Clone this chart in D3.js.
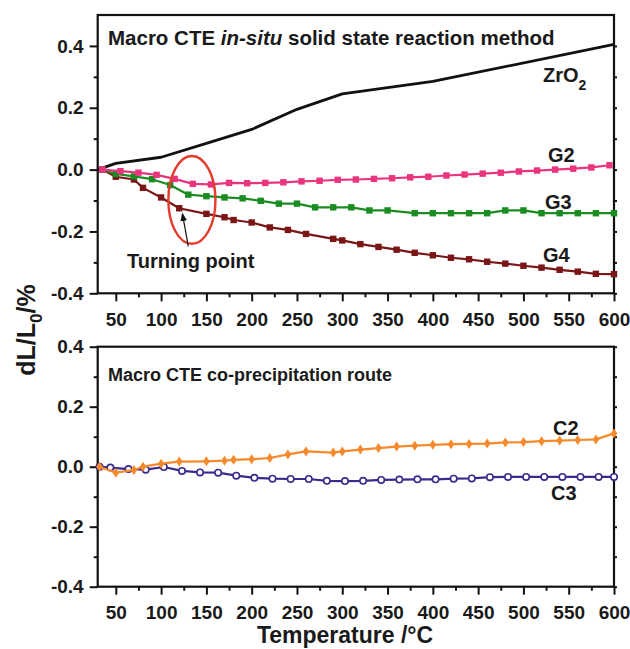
<!DOCTYPE html>
<html>
<head>
<meta charset="utf-8">
<script src="https://cdn.jsdelivr.net/npm/d3@7"></script>
<style>
  body { margin: 0; background: #fff; }
  svg { display: block; font-family: "Liberation Sans", Arial, sans-serif; font-weight: bold; }
</style>
</head>
<body>
<svg id="chart" width="630" height="649"></svg>
<script>
// ---- data (temperature in °C, dL/L0 in %) ----
const zro2T = [30, 50, 100, 150, 200, 250, 300, 400, 600];
const zro2V = [0, 0.02, 0.04, 0.085, 0.13, 0.195, 0.245, 0.285, 0.405];

const g2T = [35, 55, 75, 95, 115, 135, 155, 175, 195, 215, 235, 255, 275, 295, 315, 335, 355, 375, 395, 415, 435, 455, 475, 495, 515, 535, 555, 575, 595];
const g2V = [0, -0.005, -0.01, -0.017, -0.03, -0.046, -0.048, -0.043, -0.044, -0.043, -0.041, -0.038, -0.036, -0.033, -0.032, -0.03, -0.028, -0.025, -0.023, -0.019, -0.016, -0.013, -0.01, -0.006, -0.003, 0, 0.003, 0.007, 0.014];

const g3T = [35, 50, 70, 90, 110, 130, 150, 170, 190, 210, 230, 250, 270, 290, 310, 330, 350, 380, 400, 420, 440, 460, 480, 500, 520, 540, 560, 580, 600];
const g3V = [0, -0.014, -0.022, -0.031, -0.05, -0.081, -0.086, -0.09, -0.093, -0.101, -0.11, -0.11, -0.122, -0.122, -0.122, -0.132, -0.132, -0.141, -0.141, -0.141, -0.141, -0.141, -0.132, -0.132, -0.141, -0.141, -0.141, -0.141, -0.141];

const g4T = [35, 50, 70, 80, 100, 120, 150, 170, 180, 200, 220, 240, 260, 290, 300, 320, 340, 360, 380, 400, 420, 440, 460, 480, 500, 520, 540, 560, 580, 600];
const g4V = [0, -0.023, -0.032, -0.059, -0.09, -0.125, -0.143, -0.154, -0.163, -0.171, -0.187, -0.195, -0.208, -0.224, -0.229, -0.241, -0.25, -0.259, -0.269, -0.277, -0.285, -0.29, -0.298, -0.304, -0.311, -0.317, -0.324, -0.33, -0.337, -0.338];

const c2T = [32, 50, 70, 80, 100, 120, 150, 170, 180, 200, 220, 240, 260, 290, 300, 320, 340, 360, 380, 400, 420, 440, 460, 480, 500, 520, 540, 560, 580, 600];
const c2V = [0, -0.02, -0.011, 0, 0.01, 0.017, 0.018, 0.02, 0.023, 0.025, 0.029, 0.041, 0.051, 0.047, 0.051, 0.057, 0.062, 0.067, 0.07, 0.073, 0.075, 0.076, 0.077, 0.081, 0.082, 0.085, 0.087, 0.089, 0.091, 0.111];

const c3T = [32, 44, 64, 83, 103, 123, 143, 163, 183, 203, 223, 243, 263, 283, 303, 323, 343, 363, 383, 403, 423, 443, 463, 483, 503, 523, 543, 563, 583, 600];
const c3V = [0, -0.003, -0.008, -0.01, -0.001, -0.014, -0.019, -0.02, -0.03, -0.037, -0.04, -0.041, -0.041, -0.047, -0.048, -0.047, -0.044, -0.043, -0.042, -0.042, -0.04, -0.039, -0.035, -0.034, -0.034, -0.034, -0.034, -0.034, -0.034, -0.034];

const xMajor = d3.range(50, 601, 50);
const xMinor = d3.range(75, 600, 50);
const yMajor = [-0.4, -0.2, 0, 0.2, 0.4];
const yMinor = [-0.3, -0.1, 0.1, 0.3];

const svg = d3.select("#chart");
const fmt = v => d3.format(".1f")(v).replace("\u2212", "-");

const x = d3.scaleLinear().domain([30, 600]).range([97.7, 614]);

function drawPanel(yDomain, yRange) {
  const y = d3.scaleLinear().domain(yDomain).range(yRange);
  const g = svg.append("g");
  const bottom = yRange[0], top = yRange[1];

  // minor ticks
  g.append("g").attr("transform", `translate(0,${bottom})`)
    .call(d3.axisBottom(x).tickValues(xMinor).tickSize(4).tickFormat(""));
  g.append("g").attr("transform", `translate(${x.range()[0]},0)`)
    .call(d3.axisLeft(y).tickValues(yMinor).tickSize(4).tickFormat(""));
  g.append("g").attr("transform", `translate(${x.range()[1]},0)`)
    .call(d3.axisRight(y).tickValues(yMajor.concat(yMinor)).tickSize(3).tickFormat(""));

  // major ticks + labels
  g.append("g").attr("transform", `translate(0,${bottom})`)
    .call(d3.axisBottom(x).tickValues(xMajor).tickSize(8).tickPadding(11));
  g.append("g").attr("transform", `translate(${x.range()[0]},0)`)
    .call(d3.axisLeft(y).tickValues(yMajor).tickSize(8).tickPadding(6).tickFormat(fmt));

  g.selectAll(".domain").remove();
  g.selectAll(".tick line").attr("stroke", "#111").attr("stroke-width", 2);
  g.selectAll(".tick text").attr("fill", "#1a1a1a")
    .style("font-size", "19px").style("font-weight", "bold")
    .style("font-family", '"Liberation Sans", Arial, sans-serif');

  // frame
  g.append("rect")
    .attr("x", x.range()[0]).attr("y", top)
    .attr("width", x.range()[1] - x.range()[0]).attr("height", bottom - top)
    .attr("fill", "none").attr("stroke", "#111").attr("stroke-width", 2.2);
  return y;
}

function series(y, ts, vs, color, marker, width) {
  const pts = ts.map((t, i) => [t, vs[i]]);
  const line = d3.line().x(d => x(d[0])).y(d => y(d[1]));
  svg.append("path").datum(pts)
    .attr("d", line).attr("fill", "none")
    .attr("stroke", color).attr("stroke-width", width || 2.2)
    .attr("stroke-linejoin", "round");
  if (!marker) return;
  const m = svg.append("g");
  pts.forEach(d => {
    const cx = x(d[0]), cy = y(d[1]);
    if (marker === "square") {
      m.append("rect").attr("x", cx - 3.2).attr("y", cy - 3.2).attr("width", 6.4).attr("height", 6.4)
        .attr("fill", color);
    } else if (marker === "diamond") {
      m.append("path").attr("d", `M${cx},${cy - 5}L${cx + 3.3},${cy}L${cx},${cy + 5}L${cx - 3.3},${cy}Z`)
        .attr("fill", color);
    } else {
      m.append("circle").attr("cx", cx).attr("cy", cy).attr("r", 3.2)
        .attr("fill", "#fff").attr("stroke", color).attr("stroke-width", 1.6);
    }
  });
}

function label(px, py, txt, size) {
  return svg.append("text").attr("x", px).attr("y", py)
    .attr("fill", "#1a1a1a").style("font-size", (size || 20) + "px").text(txt);
}

// ---- top panel ----
const yTop = drawPanel([-0.4, 0.5], [293.3, 15]);
series(yTop, zro2T, zro2V, "#111", null, 2.8);
series(yTop, g4T, g4V, "#7b1616", "square");
series(yTop, g3T, g3V, "#1b8c22", "square");
series(yTop, g2T, g2V, "#e8357d", "square");

const t1 = label(108, 45, "Macro CTE ", 20.5);
t1.append("tspan").style("font-style", "italic").text("in-situ");
t1.append("tspan").text(" solid state reaction method");

const zr = label(543, 82, "ZrO", 20);
zr.append("tspan").attr("dy", 8).style("font-size", "14px").text("2");
label(548, 162, "G2");
label(545, 209, "G3");
label(543, 262, "G4");
label(127, 268, "Turning point");

// turning-point annotation
svg.append("ellipse")
  .attr("cx", x(134)).attr("cy", yTop(-0.098))
  .attr("rx", x(134) - x(108)).attr("ry", yTop(-0.24) - yTop(-0.098))
  .attr("fill", "none").attr("stroke", "#e53b2c").attr("stroke-width", 2.4);

svg.append("defs").append("marker")
  .attr("id", "arrow").attr("viewBox", "0 0 10 10")
  .attr("refX", 9).attr("refY", 5)
  .attr("markerWidth", 7).attr("markerHeight", 7)
  .attr("orient", "auto-start-reverse")
  .append("path").attr("d", "M0,1L10,5L0,9Z").attr("fill", "#111");

svg.append("line")
  .attr("x1", x(130)).attr("y1", yTop(-0.248))
  .attr("x2", x(123.5)).attr("y2", yTop(-0.142))
  .attr("stroke", "#111").attr("stroke-width", 1.2)
  .attr("marker-end", "url(#arrow)");

// ---- bottom panel ----
const yBot = drawPanel([-0.4, 0.4], [586.7, 346.7]);
series(yBot, c3T, c3V, "#3a2a8c", "circle");
series(yBot, c2T, c2V, "#f5892b", "diamond");

label(108, 381, "Macro CTE co-precipitation route", 18);
label(553, 435, "C2");
label(551, 500, "C3");

// ---- axis titles ----
svg.append("text")
  .attr("x", 345).attr("y", 643)
  .attr("text-anchor", "middle").attr("fill", "#1a1a1a")
  .style("font-size", "23px").text("Temperature /\u00B0C");

const yt = svg.append("text")
  .attr("transform", "translate(35,330) rotate(-90)")
  .attr("text-anchor", "middle").attr("fill", "#1a1a1a")
  .style("font-size", "25px").text("dL/L");
yt.append("tspan").attr("dy", 7).style("font-size", "17px").text("0");
yt.append("tspan").attr("dy", -7).text("/%");
</script>
</body>
</html>
